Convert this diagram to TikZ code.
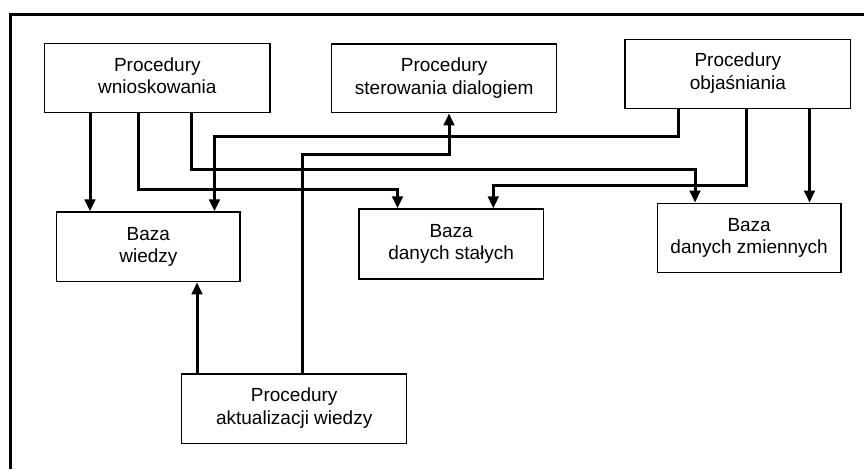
\documentclass[tikz,border=0pt]{standalone}
\usepackage{fontspec}
\setmainfont{Liberation Sans}
\usetikzlibrary{arrows.meta}
\begin{document}
\begin{tikzpicture}[x=1pt,y=-1pt,
  box/.style={draw=black, line width=1.3pt, rectangle, align=center, inner sep=0pt,
    font=\fontsize{19}{22.7}\selectfont},
  conn/.style={line width=3pt, -{Triangle[length=12pt,width=10.5pt]}},
  line/.style={line width=3pt}]
\useasboundingbox (0,0) rectangle (864,469);
% frame
\coordinate (fA) at (10.8,469);
\coordinate (fB) at (10.8,14);
\coordinate (fC) at (864,14);
\draw[line width=3pt] (fA) -- (fB) -- (fC);
% boxes
\node[box, minimum width=225.3pt, minimum height=69.4pt] (b1) at (157.35,78) {\raisebox{3pt}{\begin{tabular}{@{}c@{}}Procedury\\wnioskowania\end{tabular}}};
\node[box, minimum width=225pt, minimum height=68.7pt] (b2) at (444.2,78.35) {\raisebox{3pt}{\begin{tabular}{@{}c@{}}Procedury\\sterowania dialogiem\end{tabular}}};
\node[box, minimum width=225.7pt, minimum height=69pt] (b3) at (737.85,73.8) {\raisebox{3pt}{\begin{tabular}{@{}c@{}}Procedury\\objaśniania\end{tabular}}};
\node[box, minimum width=183.3pt, minimum height=69.7pt] (b4) at (148.35,246.85) {\raisebox{3pt}{\begin{tabular}{@{}c@{}}Baza\\wiedzy\end{tabular}}};
\node[box, minimum width=184.3pt, minimum height=70pt] (b5) at (451.15,244) {\raisebox{3pt}{\begin{tabular}{@{}c@{}}Baza\\danych stałych\end{tabular}}};
\node[box, minimum width=183.7pt, minimum height=69.4pt] (b6) at (749.15,238) {\raisebox{3pt}{\begin{tabular}{@{}c@{}}Baza\\danych zmiennych\end{tabular}}};
\node[box, minimum width=225pt, minimum height=69.3pt] (b7) at (294.2,408.65) {\raisebox{3pt}{\begin{tabular}{@{}c@{}}Procedury\\aktualizacji wiedzy\end{tabular}}};
% junction coordinates
\coordinate (c1) at (90,0);
\coordinate (k2a) at (138.3,189.3);
\coordinate (k2b) at (397.5,189.3);
\coordinate (k3a) at (191,169.3);
\coordinate (k3b) at (695,169.3);
\coordinate (k4a) at (678.3,136.5);
\coordinate (k4b) at (214.5,136.5);
\coordinate (k5a) at (746.7,185.5);
\coordinate (k5b) at (493.3,185.5);
\coordinate (c6) at (809.5,0);
\coordinate (k7a) at (302,154);
\coordinate (k7b) at (449,154);
\coordinate (c8) at (197,0);
% connectors
\draw[conn] (b1.south -| c1) -- (b4.north -| c1);
\draw[conn] (b1.south -| k2a) -- (k2a) -- (k2b) -- (b5.north -| k2b);
\draw[conn] (b1.south -| k3a) -- (k3a) -- (k3b) -- (b6.north -| k3b);
\draw[conn] (b3.south -| k4a) -- (k4a) -- (k4b) -- (b4.north -| k4b);
\draw[conn] (b3.south -| k5a) -- (k5a) -- (k5b) -- (b5.north -| k5b);
\draw[conn] (b3.south -| c6) -- (b6.north -| c6);
\draw[conn] (b7.north -| k7a) -- (k7a) -- (k7b) -- (b2.south -| k7b);
\draw[conn] (b7.north -| c8) -- (b4.south -| c8);
\end{tikzpicture}
\end{document}
